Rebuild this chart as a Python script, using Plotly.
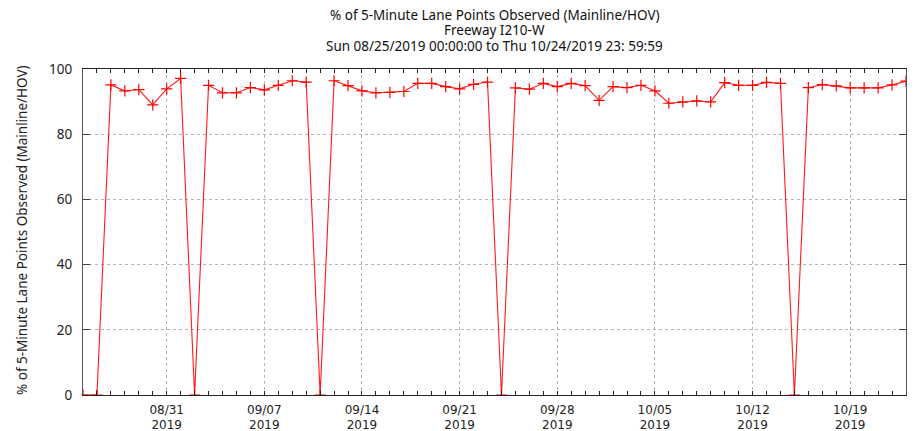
import plotly.graph_objects as go
import pandas as pd

# Daily share of 5-minute lane points observed, I210-W (Mainline/HOV)
dates = pd.date_range("2019-08-25", "2019-10-23", freq="D")
pct_observed = [
    0.0, 0.0, 95.1, 93.3, 93.7, 89.0, 93.9, 97.1,           # 08/25 - 09/01
    0.0, 95.0, 92.7, 92.7, 94.3, 93.6, 95.0, 96.4, 96.0,    # 09/02 - 09/10
    0.0, 96.4, 94.9, 93.3, 92.7, 92.8, 93.1, 95.6, 95.6,    # 09/11 - 09/19
    94.6, 93.9, 95.3, 96.0,                                 # 09/20 - 09/23
    0.0, 94.2, 93.8, 95.6, 94.6, 95.6, 94.9, 90.4, 94.6,    # 09/24 - 10/02
    94.3, 95.0, 93.3, 89.5, 89.9, 90.2, 89.9, 95.8, 95.0,   # 10/03 - 10/11
    95.0, 95.9, 95.6,                                       # 10/12 - 10/14
    0.0, 94.3, 95.2, 94.8, 94.2, 94.2, 94.2, 95.1, 96.3,    # 10/15 - 10/23
]

title_lines = [
    "% of 5-Minute Lane Points Observed (Mainline/HOV)",
    "Freeway I210-W",
    "Sun 08/25/2019 00:00:00 to Thu 10/24/2019 23: 59:59",
]
y_title = "% of 5-Minute Lane Points Observed (Mainline/HOV)"
y_ticks = [0, 20, 40, 60, 80, 100]

FONT = "Noto Sans"
FS = 13.5
TXT = "#222"

# plot area in pixels: left 83, right 906, top 69, bottom 395
W, H = 916, 431
L, R, T, B = 83, 10, 69, 36
pw, ph = W - L - R, H - T - B


def px_to_paper_y(ypix):
    return (H - B - ypix) / ph


def px_to_paper_x(xpix):
    return (xpix - L) / pw


fig = go.Figure()
fig.add_trace(go.Scatter(
    x=dates, y=pct_observed,
    mode="lines+markers",
    line=dict(color="#ff1a1a", width=1.1),
    marker=dict(symbol="cross-thin", size=8,
                line=dict(color="#ff0000", width=1.2)),
    showlegend=False,
))

# three-line heading centred over the plot area
for text, ypix in zip(title_lines, [15, 30, 45.5]):
    fig.add_annotation(
        text=text, xref="paper", yref="paper",
        x=0.5, y=px_to_paper_y(ypix),
        xanchor="center", yanchor="middle",
        showarrow=False, font=dict(family=FONT, size=FS, color="#111"),
    )

# rotated y-axis title
fig.add_annotation(
    text=y_title, xref="paper", yref="paper",
    x=px_to_paper_x(22), y=px_to_paper_y(230),
    xanchor="center", yanchor="middle", textangle=-90,
    showarrow=False, font=dict(family=FONT, size=FS, color=TXT),
)

fig.update_layout(
    width=W, height=H,
    margin=dict(l=L, r=R, t=T, b=B),
    paper_bgcolor="white", plot_bgcolor="white",
    font=dict(family=FONT, size=FS, color=TXT),
)

fig.update_xaxes(
    type="date",
    range=["2019-08-25", "2019-10-23"],
    tick0="2019-08-31", dtick=7 * 86400000,
    tickformat="%m/%d<br>%Y",
    ticks="inside", ticklen=4, tickcolor="#222",
    showline=True, linecolor="#222", linewidth=1.2, mirror="ticks",
    showgrid=True, gridcolor="#b4b4b4", griddash="dot", gridwidth=1,
    minor=dict(dtick=86400000, ticks="inside", ticklen=4,
               tickcolor="#222", showgrid=False),
    zeroline=False,
    automargin=False,
    ticklabelstandoff=3,
    tickfont=dict(family="DejaVu Sans", size=12, color=TXT),
)

fig.update_yaxes(
    range=[0, 100],
    tickvals=y_ticks,
    ticks="inside", ticklen=7, tickcolor="#444",
    showline=True, linecolor="#555", linewidth=1.2, mirror="ticks",
    showgrid=True, gridcolor="#b4b4b4", griddash="dot", gridwidth=1,
    zeroline=False,
    automargin=False,
    ticklabelstandoff=7,
    tickfont=dict(family=FONT, size=FS, color=TXT),
)

fig.write_html("out.html")
